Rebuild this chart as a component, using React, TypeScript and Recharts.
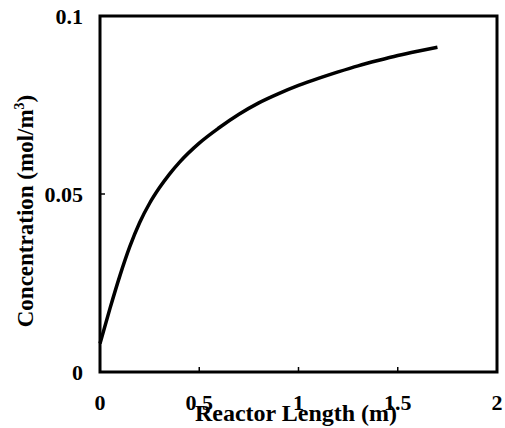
import { LineChart, Line, XAxis, YAxis, ReferenceArea } from 'recharts';

// Reactor length (m) and concentration (mol/m3)
const lengths = [0, 0.05, 0.1, 0.15, 0.2, 0.25, 0.3, 0.35, 0.4, 0.5, 0.6, 0.7, 0.8, 0.9, 1.0, 1.1, 1.2, 1.3, 1.4, 1.5, 1.6, 1.7];
const concentrations = [0.008, 0.0178, 0.027, 0.0352, 0.042, 0.0474, 0.0518, 0.0556, 0.0589, 0.0643, 0.0686, 0.0724, 0.0756, 0.0782, 0.0805, 0.0825, 0.0843, 0.086, 0.0875, 0.0889, 0.0901, 0.0912];
const xTicks = [0, 0.5, 1, 1.5, 2];
const yTicks = [0, 0.05, 0.1];

const data = lengths.map((x, i) => ({ x, c: concentrations[i] }));

const textStyle = { fontFamily: '"Liberation Serif", "Times New Roman", Times, serif', fontWeight: 700 };

const XTick = (props: any) => {
  const { x, y, payload } = props;
  return (
    <g>
      <line x1={x} y1={y} x2={x} y2={y - 5} stroke="#000" strokeWidth={1.5} />
      <text x={x} y={y + 38} textAnchor="middle" style={textStyle} fontSize={22} fill="#000">
        {payload.value}
      </text>
    </g>
  );
};

const YTick = (props: any) => {
  const { x, y, payload } = props;
  return (
    <g>
      <line x1={x} y1={y} x2={x + 5} y2={y} stroke="#000" strokeWidth={1.5} />
      <text x={x - 17} y={y + 8} textAnchor="end" style={textStyle} fontSize={22} fill="#000">
        {payload.value}
      </text>
    </g>
  );
};

export default function App() {
  return (
    <div style={{ position: 'absolute', left: 0, top: 0, background: '#fff' }}>
      <LineChart width={505} height={428} data={data} margin={{ top: 16, right: 8, bottom: 0, left: 0 }}>
        <XAxis
          dataKey="x"
          type="number"
          domain={[0, 2]}
          ticks={xTicks}
          height={56}
          axisLine={false}
          tickLine={false}
          tickSize={0}
          tickMargin={0}
          tick={<XTick />}
          label={{
            content: () => (
              <text x={296} y={421} textAnchor="middle" style={textStyle} fontSize={24} fill="#000">
                Reactor Length (m)
              </text>
            ),
          }}
        />
        <YAxis
          type="number"
          domain={[0, 0.1]}
          ticks={yTicks}
          width={100}
          axisLine={false}
          tickLine={false}
          tickSize={0}
          tickMargin={0}
          tick={<YTick />}
          label={{
            content: () => (
              <text
                x={33}
                y={211}
                textAnchor="middle"
                style={textStyle}
                fontSize={23}
                fill="#000"
                transform="rotate(-90 33 211)"
              >
                Concentration (mol/m<tspan dy={-9} fontSize={14}>3</tspan><tspan dy={9}>)</tspan>
              </text>
            ),
          }}
        />
        <ReferenceArea x1={0} x2={2} y1={0} y2={0.1} fill="none" stroke="#000" strokeWidth={3} />
        <Line
          type="monotone"
          dataKey="c"
          stroke="#000"
          strokeWidth={3.5}
          dot={false}
          isAnimationActive={false}
        />
      </LineChart>
    </div>
  );
}
